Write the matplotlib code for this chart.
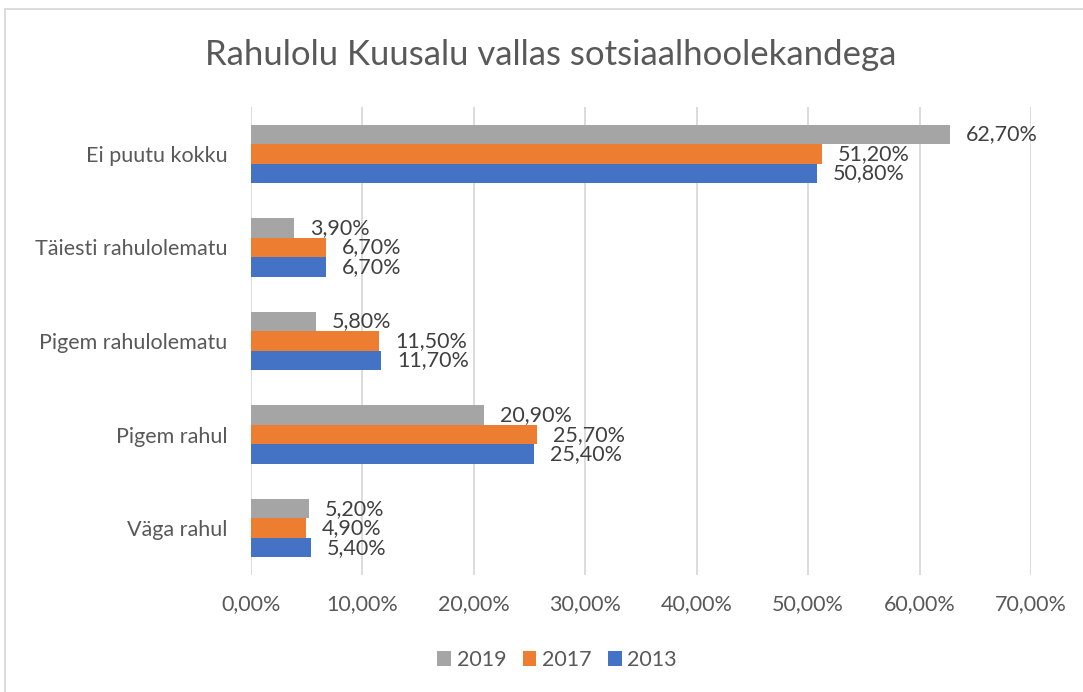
import matplotlib
matplotlib.use("Agg")
import matplotlib.pyplot as plt
from matplotlib.patches import Rectangle
import numpy as np

categories = ["Ei puutu kokku", "Täiesti rahulolematu", "Pigem rahulolematu", "Pigem rahul", "Väga rahul"]
v2019 = [62.7, 3.9, 5.8, 20.9, 5.2]
v2017 = [51.2, 6.7, 11.5, 25.7, 4.9]
v2013 = [50.8, 6.7, 11.7, 25.4, 5.4]
series = [("2019", v2019, "#a5a5a5"), ("2017", v2017, "#ed7d31"), ("2013", v2013, "#4472c4")]
xticks = [0, 10, 20, 30, 40, 50, 60, 70]
title = "Rahulolu Kuusalu vallas sotsiaalhoolekandega"

plt.rcParams['font.family'] = ['Lato', 'DejaVu Sans']
txt = "#595959"
lbl = "#404040"
grid = "#d9d9d9"

fig = plt.figure(figsize=(10.83, 6.92), dpi=100)
W, H = 1083, 692
# chart area border
fig.patches.append(Rectangle((5 / W, -0.1), 1.2, 1 - 9 / H + 0.1, transform=fig.transFigure,
                             fill=False, edgecolor=grid, linewidth=1.3, zorder=0))

ax = fig.add_axes([251 / W, 1 - 575 / H, (1031 - 251) / W, (575 - 107) / H])
n = len(categories)
y = np.arange(n)
bh = 0.208
offsets = [-bh, 0, bh]
for (name, vals, col), off in zip(series, offsets):
    ax.barh(y + off, vals, height=bh, color=col, label=name, zorder=2)
    for yi, v in zip(y, vals):
        ax.annotate(f"{v:.2f}%".replace(".", ","), (v, yi + off), xytext=(11.5, 0),
                    textcoords="offset points", va="center", ha="left",
                    fontsize=15.5, color=lbl)

ax.set_ylim(n - 0.5, -0.5)
ax.set_xlim(0, 70)
ax.set_xticks(xticks)
ax.set_xticklabels([f"{t:.2f}%".replace(".", ",") for t in xticks], fontsize=15.5, color=txt)
ax.set_yticks(y)
ax.set_yticklabels(categories, fontsize=15.5, color=txt)
ax.tick_params(axis="both", length=0)
ax.tick_params(axis="x", pad=14)
ax.tick_params(axis="y", pad=17)
for s in ax.spines.values():
    s.set_visible(False)
ax.xaxis.grid(True, color=grid, linewidth=1.3, zorder=0)
ax.set_axisbelow(True)

fig.text(551 / W, 1 - 55 / H, title, ha="center", va="center", fontsize=25,
         color=txt)

handles, labels = ax.get_legend_handles_labels()
fig.legend(handles, labels, loc="center", bbox_to_anchor=(557 / W, 1 - 660 / H), ncol=3,
           frameon=False, fontsize=15.5, labelcolor=txt, handlelength=0.65, handleheight=0.65,
           handletextpad=0.25, columnspacing=0.75)

fig.savefig("out.png", dpi=100)
